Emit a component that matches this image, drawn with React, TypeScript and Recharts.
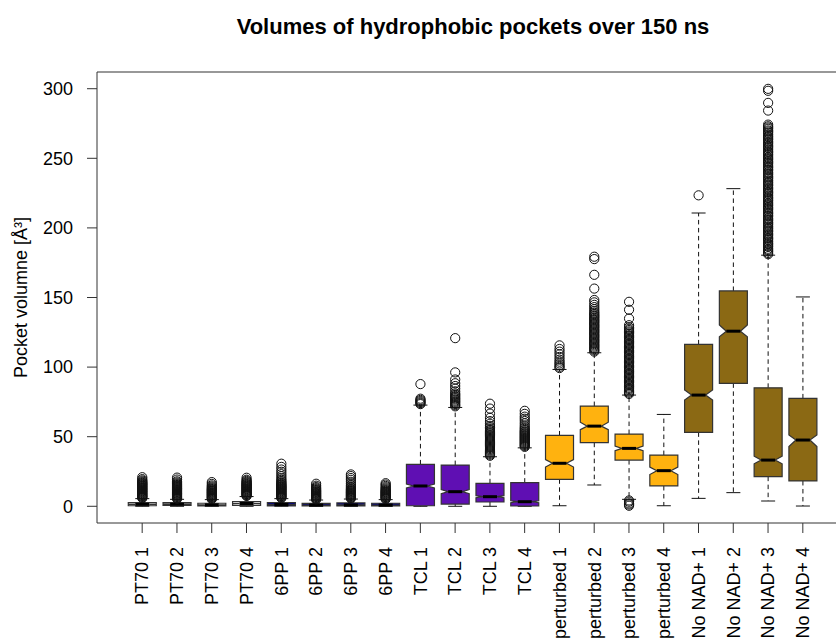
import { Bar, ComposedChart, ReferenceLine, XAxis, YAxis } from 'recharts';

const categories = [
  'PT70 1', 'PT70 2', 'PT70 3', 'PT70 4',
  '6PP 1', '6PP 2', '6PP 3', '6PP 4',
  'TCL 1', 'TCL 2', 'TCL 3', 'TCL 4',
  'perturbed 1', 'perturbed 2', 'perturbed 3', 'perturbed 4',
  'No NAD+ 1', 'No NAD+ 2', 'No NAD+ 3', 'No NAD+ 4',
];
const groups = [
  'PT70', 'PT70', 'PT70', 'PT70',
  '6PP', '6PP', '6PP', '6PP',
  'TCL', 'TCL', 'TCL', 'TCL',
  'perturbed', 'perturbed', 'perturbed', 'perturbed',
  'NoNAD', 'NoNAD', 'NoNAD', 'NoNAD',
];

// five-number summary per simulation
const whiskerLow = [0, 0, 0, 0, 0, 0, 0, 0, 0, 0, 0, 0, 0.4, 15.3, 5, 0.4, 5.7, 9.8, 3.8, 0.2];
const q1 = [0.4, 0.6, 0.3, 0.7, 0.3, 0.3, 0.2, 0.2, 0.4, 1.6, 3.1, 0.2, 19.4, 45.7, 33.2, 14.6, 53.1, 88.3, 21.3, 18.2];
const medians = [1.4, 1.5, 1.1, 2.0, 1.3, 0.9, 1.0, 0.9, 14.6, 10.5, 6.9, 3.3, 30.9, 57.6, 41.6, 25.6, 79.9, 125.8, 33.2, 47.6];
const q3 = [2.7, 2.7, 2.2, 3.4, 2.7, 2.1, 2.4, 2.2, 30.1, 29.6, 16.5, 17, 50.9, 72, 51.9, 36.8, 116.3, 154.7, 85.1, 77.5];
const whiskerHigh = [5.5, 5.0, 4.8, 7.0, 5.5, 4.5, 5.2, 4.8, 72.7, 71, 35.6, 42, 98.3, 110.3, 79.9, 66, 210.7, 228.2, 180.4, 150.4];
const notchLow = [1.3, 1.4, 1.0, 1.9, 1.2, 0.8, 0.9, 0.8, 13.2, 9.0, 6.2, 2.6, 28.2, 55.0, 40.0, 22.8, 76.3, 121.7, 30.5, 43.0];
const notchHigh = [1.5, 1.6, 1.2, 2.1, 1.4, 1.0, 1.1, 1.0, 16.0, 12.0, 7.6, 4.0, 33.6, 60.4, 43.2, 28.2, 83.5, 130.3, 36.0, 51.2];

const outliers: number[][] = [
  // PT70 1
  [5.9, 6.3, 6.8, 7.2, 7.7, 8.1, 8.6, 9.0, 9.5, 10.0, 10.4, 10.9, 11.3, 11.8, 12.2, 12.7, 13.1, 13.6, 14.0, 14.5, 15.0, 15.4, 15.9, 16.3, 16.8, 17.3, 17.9, 18.6, 19.5, 20.9],
  // PT70 2
  [5.4, 5.8, 6.3, 6.7, 7.2, 7.6, 8.1, 8.5, 9.0, 9.4, 9.9, 10.3, 10.8, 11.2, 11.7, 12.1, 12.6, 13.0, 13.5, 13.9, 14.4, 14.8, 15.3, 15.8, 16.4, 17.1, 17.9, 19.2, 20.6],
  // PT70 3
  [5.2, 5.6, 6.1, 6.5, 7.0, 7.4, 7.9, 8.3, 8.8, 9.2, 9.7, 10.1, 10.6, 11.0, 11.5, 11.9, 12.4, 12.9, 13.5, 14.2, 15.0, 16.1, 17.4],
  // PT70 4
  [7.4, 7.9, 8.3, 8.8, 9.2, 9.7, 10.1, 10.6, 11.0, 11.5, 11.9, 12.4, 12.8, 13.3, 13.7, 14.2, 14.6, 15.1, 15.5, 16.0, 16.5, 17.0, 17.6, 18.3, 19.1, 20.5],
  // 6PP 1
  [5.9, 6.4, 6.8, 7.3, 7.7, 8.2, 8.6, 9.1, 9.5, 10.0, 10.4, 10.9, 11.4, 11.8, 12.3, 12.7, 13.2, 13.6, 14.1, 14.5, 15.0, 15.5, 16.0, 16.6, 17.3, 18.1, 19.0, 20.2, 21.6, 23.1, 24.8, 26.4, 28.3, 30.6],
  // 6PP 2
  [4.9, 5.3, 5.8, 6.2, 6.7, 7.1, 7.6, 8.0, 8.5, 8.9, 9.4, 9.8, 10.3, 10.7, 11.2, 11.7, 12.3, 13.0, 13.8, 14.8, 16.2],
  // 6PP 3
  [5.6, 6.1, 6.5, 7.0, 7.4, 7.9, 8.3, 8.8, 9.2, 9.7, 10.1, 10.6, 11.0, 11.5, 12.0, 12.6, 13.3, 14.1, 15.0, 16.2, 17.6, 19.0, 20.3, 21.7, 22.9],
  // 6PP 4
  [5.2, 5.7, 6.1, 6.6, 7.0, 7.5, 7.9, 8.4, 8.8, 9.3, 9.7, 10.2, 10.6, 11.1, 11.6, 12.2, 12.9, 13.7, 14.6, 15.6, 16.6],
  // TCL 1
  [73.4, 74.1, 74.8, 75.6, 76.4, 77.3, 87.8],
  // TCL 2
  [71.8, 72.6, 73.4, 74.3, 75.1, 75.9, 76.8, 77.6, 78.5, 79.3, 80.2, 81.1, 82.6, 84.5, 86.4, 88.4, 91.1, 96.2, 120.8],
  // TCL 3
  [36.3, 37.1, 37.9, 38.7, 39.5, 40.3, 41.1, 41.9, 42.7, 43.5, 44.3, 45.1, 45.9, 46.7, 47.5, 48.3, 49.1, 49.9, 50.7, 51.5, 52.3, 53.1, 53.9, 54.7, 55.6, 56.6, 57.8, 59.3, 61.2, 63.5, 66.6, 70.2, 73.7],
  // TCL 4
  [42.7, 43.4, 44.1, 44.8, 45.5, 46.2, 46.9, 47.6, 48.3, 49.0, 49.7, 50.4, 51.1, 51.8, 52.5, 53.2, 53.9, 54.7, 55.6, 56.7, 58.0, 59.6, 61.3, 62.9, 64.4, 66.4, 68.6],
  // perturbed 1
  [99.3, 100.2, 101.4, 102.6, 103.9, 105.4, 107.3, 109.2, 111.1, 113.0, 115.6],
  // perturbed 2
  [111.1, 112.0, 112.9, 113.8, 114.7, 115.6, 116.5, 117.4, 118.3, 119.2, 120.1, 121.0, 121.9, 122.8, 123.7, 124.6, 125.5, 126.4, 127.3, 128.2, 129.1, 130.0, 130.9, 131.8, 132.7, 133.6, 134.5, 135.4, 136.3, 137.2, 138.1, 139.0, 140.2, 141.6, 143.1, 144.7, 146.5, 148.2, 156.4, 166.3, 177.6, 179.3],
  // perturbed 3
  [0.4, 1.3, 2.1, 3.3, 4.2,
    80.7, 81.6, 82.4, 83.4, 84.3, 85.1, 86.1, 87.0, 87.8, 88.8, 89.7, 90.5, 91.5, 92.4, 93.2, 94.2, 95.1, 95.9, 96.9, 97.8, 98.6, 99.6, 100.5, 101.3, 102.3, 103.2, 104.0, 105.0, 105.9, 106.7, 107.7, 108.6, 109.4, 110.4, 111.3, 112.1, 113.1, 114.0, 114.8, 115.8, 116.7, 117.5, 118.5, 119.4, 120.2, 121.2, 122.1, 122.9, 123.9, 124.8, 125.6, 126.6, 127.5, 128.6, 130.1, 134.9, 141.2, 146.9],
  // perturbed 4
  [],
  // No NAD+ 1
  [223.4],
  // No NAD+ 2
  [],
  // No NAD+ 3
  [181.1, 182.0, 183.2, 184.1, 185.0, 186.3, 187.1, 188.2, 189.0, 190.1, 191.3, 192.2, 193.0, 194.2, 195.1, 196.0, 197.3, 198.1, 199.2, 200.0, 201.1, 202.3, 203.2, 204.0, 205.2, 206.1, 207.0, 208.3, 209.1, 210.2, 211.0, 212.1, 213.3, 214.2, 215.0, 216.2, 217.1, 218.0, 219.3, 220.1, 221.2, 222.0, 223.1, 224.3, 225.2, 226.0, 227.2, 228.1, 229.0, 230.3, 231.1, 232.2, 233.0, 234.1, 235.3, 236.2, 237.0, 238.2, 239.1, 240.0, 241.3, 242.1, 243.2, 244.0, 245.1, 246.3, 247.2, 248.0, 249.2, 250.1, 251.0, 252.3, 253.1, 254.2, 255.0, 256.1, 257.3, 258.2, 259.0, 260.2, 261.1, 262.0, 263.3, 264.1, 265.2, 266.0, 267.1, 268.3, 269.2, 270.0, 271.2, 272.1, 273.0, 274.2, 284.3, 289.8, 298.5, 299.9],
  // No NAD+ 4
  [],
];

const yTicks = [0, 50, 100, 150, 200, 250, 300];
const yDomain = [-12, 312];

const groupFill: Record<string, string> = {
  PT70: '#ffffff',
  '6PP': '#00008b',
  TCL: '#5f0fb3',
  perturbed: '#ffb20f',
  NoNAD: '#8b6914',
};

const FONT = '"Liberation Sans", Arial, Helvetica, sans-serif';

const rows = categories.map((name, i) => ({
  name,
  whisker: [whiskerLow[i], whiskerHigh[i]],
  q1: q1[i],
  median: medians[i],
  q3: q3[i],
  notchLow: notchLow[i],
  notchHigh: notchHigh[i],
  outliers: outliers[i],
  fill: groupFill[groups[i]],
}));

// R-style notched box drawn on top of a [low, high] range bar
function NotchedBox(props: any) {
  const { x, y, width, height, payload } = props;
  const [lo, hi] = payload.whisker;
  const h = Math.abs(height);
  const top = height < 0 ? y + height : y;
  const k = h / (hi - lo);
  const py = (v: number) => top + (hi - v) * k;
  const cx = x + width / 2;
  const hw = width / 2;
  const xs = [-1, 1, 1, 0.5, 1, 1, -1, -1, -0.5, -1].map((f) => cx + f * hw);
  const ys = [payload.q1, payload.q1, payload.notchLow, payload.median, payload.notchHigh, payload.q3, payload.q3, payload.notchHigh, payload.median, payload.notchLow].map(py);
  const pts = xs.map((px, i) => `${px},${ys[i]}`).join(' ');
  return (
    <g>
      <line x1={cx} x2={cx} y1={py(payload.q3)} y2={py(hi)} stroke="#111" strokeDasharray="4.5 3.5" />
      <line x1={cx} x2={cx} y1={py(payload.q1)} y2={py(lo)} stroke="#111" strokeDasharray="4.5 3.5" />
      <line x1={cx - hw / 2} x2={cx + hw / 2} y1={py(hi)} y2={py(hi)} stroke="#111" />
      <line x1={cx - hw / 2} x2={cx + hw / 2} y1={py(lo)} y2={py(lo)} stroke="#111" />
      <polygon points={pts} fill={payload.fill} stroke="#333" strokeWidth={1.2} />
      <line x1={cx - hw / 2} x2={cx + hw / 2} y1={py(payload.median)} y2={py(payload.median)} stroke="#000" strokeWidth={3} />
      {payload.outliers.map((v: number, i: number) => (
        <circle key={i} cx={cx} cy={py(v)} r={4.6} fill="none" stroke="#111" strokeWidth={1} />
      ))}
    </g>
  );
}

function RotatedTick({ x, payload }: any) {
  return (
    <text transform={`translate(${x}, 547) rotate(-90)`} textAnchor="end" dy="0.35em" fontSize={18} fontFamily={FONT} fill="#000">
      {payload.value}
    </text>
  );
}

export default function App() {
  return (
    <div style={{ position: 'absolute', left: 0, top: 0, width: 836, height: 643, overflow: 'hidden', background: '#fff' }}>
      <ComposedChart width={880} height={643} data={rows} margin={{ top: 72, right: 32, bottom: 0, left: 0 }} barCategoryGap="10%">
        <XAxis
          dataKey="name"
          type="category"
          interval={0}
          height={120}
          padding={{ left: 27.8, right: 27.8 }}
          tickSize={10}
          tick={<RotatedTick />}
          stroke="#333"
          tickLine={{ stroke: '#333' }}
        />
        <YAxis
          type="number"
          domain={yDomain}
          ticks={yTicks}
          width={97}
          tickSize={10}
          tickMargin={14}
          stroke="#333"
          tick={{ fontSize: 18, fontFamily: FONT, fill: '#000' }}
        />
        {/* top edge of the plot frame */}
        <ReferenceLine y={yDomain[1]} stroke="#333" strokeWidth={1.2} />
        <Bar dataKey="whisker" shape={<NotchedBox />} isAnimationActive={false} />
      </ComposedChart>
      <svg width={836} height={643} style={{ position: 'absolute', left: 0, top: 0, pointerEvents: 'none' }}>
        <text x={473} y={34} textAnchor="middle" fontSize={22} fontWeight="bold" fontFamily={FONT} fill="#000">
          Volumes of hydrophobic pockets over 150 ns
        </text>
        <text transform="translate(27, 297.5) rotate(-90)" textAnchor="middle" fontSize={18} fontFamily={FONT} fill="#000">
          Pocket volumne [Å³]
        </text>
      </svg>
    </div>
  );
}
